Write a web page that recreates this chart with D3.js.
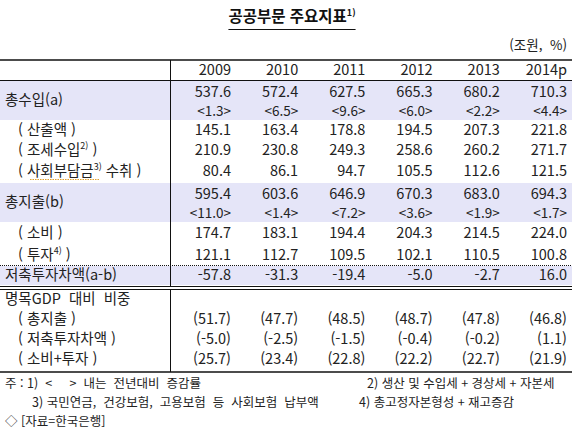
<!DOCTYPE html>
<html lang="ko">
<head>
<meta charset="UTF-8">
<title>공공부문 주요지표</title>
<style>
  body { margin: 0; background: #fff; }
  svg { display: block; font-family: "Noto Sans CJK KR", "Noto Sans", sans-serif; }
</style>
</head>
<body>
<svg id="tbl" width="572" height="438"></svg>
<script src="https://cdn.jsdelivr.net/npm/d3@7"></script>
<script>
// 연도 (열)
const years = ['2009', '2010', '2011', '2012', '2013', '2014p'];

// 조원
const totalRevenue = [537.6, 572.4, 627.5, 665.3, 680.2, 710.3];
const revenueGrowth = [1.3, 6.5, 9.6, 6.0, 2.2, 4.4];
const outputSales = [145.1, 163.4, 178.8, 194.5, 207.3, 221.8];
const taxRevenue = [210.9, 230.8, 249.3, 258.6, 260.2, 271.7];
const socialContrib = [80.4, 86.1, 94.7, 105.5, 112.6, 121.5];
const totalExpenditure = [595.4, 603.6, 646.9, 670.3, 683.0, 694.3];
const expenditureGrowth = [11.0, 1.4, 7.2, 3.6, 1.9, 1.7];
const consumption = [174.7, 183.1, 194.4, 204.3, 214.5, 224.0];
const investment = [121.1, 112.7, 109.5, 102.1, 110.5, 100.8];
const balance = [-57.8, -31.3, -19.4, -5.0, -2.7, 16.0];

// 명목GDP 대비 비중 (%)
const gdpExpenditure = [51.7, 47.7, 48.5, 48.7, 47.8, 46.8];
const gdpBalance = [-5.0, -2.5, -1.5, -0.4, -0.2, 1.1];
const gdpConsInv = [25.7, 23.4, 22.8, 22.2, 22.7, 21.9];

// 주석 [텍스트, 들여쓰기 여부]
const notesLeft = [['주 : 1)  <     >  내는  전년대비  증감률', 0], ['3) 국민연금,  건강보험,  고용보험  등  사회보험  납부액', 1]];
const notesRight = ['2) 생산 및 수입세 + 경상세 + 자본세', '4) 총고정자본형성 + 재고증감'];
const source = '◇ [자료=한국은행]';

const f1 = d3.formatLocale({ decimal: '.', thousands: ',', grouping: [3], currency: ['', ''], minus: '-' }).format('.1f');

// 표 행: label 조각 [텍스트, 위첨자 여부]
const rows = [
  { label: [['총수입(a)']], values: totalRevenue, growth: revenueGrowth, shade: true, h: 40 },
  { label: [['( 산출액 )']], indent: true, values: outputSales, h: 20 },
  { label: [['( 조세수입'], ['2)', 1], [' )']], indent: true, values: taxRevenue, h: 20 },
  { label: [['( 사회부담금'], ['3)', 1], [' 수취 )']], indent: true, values: socialContrib, h: 22, squiggle: true },
  { label: [['총지출(b)']], values: totalExpenditure, growth: expenditureGrowth, shade: true, h: 40 },
  { label: [['( 소비 )']], indent: true, values: consumption, h: 22 },
  { label: [['( 투자'], ['4)', 1], [' )']], indent: true, values: investment, h: 21, dotted: true },
  { label: [['저축투자차액(a-b)']], values: balance, shade: true, h: 20, double: true },
  { label: [['명목GDP  대비  비중']], values: null, h: 20, gap: 4 },
  { label: [['( 총지출 )']], indent: true, values: gdpExpenditure, paren: true, h: 20 },
  { label: [['( 저축투자차액 )']], indent: true, values: gdpBalance, paren: true, h: 20 },
  { label: [['( 소비+투자 )']], indent: true, values: gdpConsInv, paren: true, h: 20 }
];

const W = 572;
const svg = d3.select('#tbl');
const tableTop = 60, headH = 20, splitX = 170.5;
const numSize = 14.5, labelSize = 14.5;

const x = d3.scalePoint().domain(years).range([231, 567]);

// 제목
const title = svg.append('text')
  .attr('x', 292).attr('y', 22)
  .attr('text-anchor', 'middle')
  .attr('font-size', 15.5).attr('font-weight', 'bold').attr('fill', '#111');
title.append('tspan').text('공공부문 주요지표');
title.append('tspan').attr('font-size', 9).attr('dy', -6).text('1)');
const tb = title.node().getBBox();
svg.append('line')
  .attr('x1', tb.x).attr('x2', tb.x + tb.width)
  .attr('y1', 29.5).attr('y2', 29.5)
  .attr('stroke', '#111').attr('stroke-width', 1);

svg.append('text')
  .attr('x', 567).attr('y', 49.5)
  .attr('text-anchor', 'end').attr('font-size', 13.5).attr('fill', '#222')
  .style('white-space', 'pre')
  .text('(조원,  %)');

// 행 위치 계산
let cursor = tableTop + headH;
rows.forEach(r => {
  if (r.gap) cursor += r.gap;
  r.top = cursor;
  cursor += r.h;
});
const tableBottom = cursor + 3;

// 음영
svg.selectAll('rect.shade')
  .data(rows.filter(r => r.shade))
  .join('rect')
  .attr('class', 'shade')
  .attr('x', 0).attr('width', W)
  .attr('y', r => r.top + 1).attr('height', r => r.h - 1)
  .attr('fill', '#e5e5f8');

// 헤더
svg.selectAll('text.year')
  .data(years)
  .join('text')
  .attr('class', 'year')
  .attr('x', d => x(d)).attr('y', tableTop + headH / 2 + 5)
  .attr('text-anchor', 'end').attr('font-size', numSize).attr('fill', '#222')
  .text(d => d);

// 라벨
const labels = svg.selectAll('text.label')
  .data(rows)
  .join('text')
  .attr('class', 'label')
  .attr('x', r => r.indent ? 18 : 5)
  .attr('y', r => r.top + r.h / 2 + 5)
  .attr('font-size', labelSize).attr('fill', '#222')
  .style('white-space', 'pre');
labels.each(function (r) {
  const t = d3.select(this);
  r.label.forEach(([s, sup], i) => {
    const sp = t.append('tspan').text(s);
    if (sup) sp.attr('font-size', 9).attr('dy', -6);
    else if (i > 0 && r.label[i - 1][1]) sp.attr('dy', 6);
  });
});

// 맞춤법 밑줄 (사회부담금)
rows.filter(r => r.squiggle).forEach(r => {
  svg.append('line')
    .attr('x1', 30).attr('x2', 100)
    .attr('y1', r.top + r.h / 2 + 8.5).attr('y2', r.top + r.h / 2 + 8.5)
    .attr('stroke', '#e0a030').attr('stroke-width', 1.2)
    .attr('stroke-dasharray', '1.5,1');
});

// 값
rows.filter(r => r.values).forEach(r => {
  const main = r.growth ? r.top + 16.5 : r.top + r.h / 2 + 5;
  svg.selectAll(null)
    .data(r.values.map((v, i) => ({ v, year: years[i] })))
    .join('text')
    .attr('x', d => x(d.year)).attr('y', main)
    .attr('text-anchor', 'end').attr('font-size', numSize).attr('fill', '#222')
    .text(d => r.paren ? `(${f1(d.v)})` : f1(d.v));
  if (r.growth) {
    svg.selectAll(null)
      .data(r.growth.map((v, i) => ({ v, year: years[i] })))
      .join('text')
      .attr('x', d => x(d.year)).attr('y', r.top + 35.5)
      .attr('text-anchor', 'end').attr('font-size', 13.5).attr('fill', '#222')
      .text(d => `<${f1(d.v)}>`);
  }
});

// 선
svg.append('line')
  .attr('x1', 0).attr('x2', W).attr('y1', tableTop).attr('y2', tableTop)
  .attr('stroke', '#111').attr('stroke-width', 1.6);
svg.append('line')
  .attr('x1', 0).attr('x2', W).attr('y1', tableTop + headH + 0.5).attr('y2', tableTop + headH + 0.5)
  .attr('stroke', '#111').attr('stroke-width', 1);

rows.filter(r => r.dotted).forEach(r => {
  const y = r.top + r.h + 0.5;
  svg.append('line')
    .attr('x1', 0).attr('x2', W).attr('y1', y).attr('y2', y)
    .attr('stroke', '#111').attr('stroke-width', 1).attr('stroke-dasharray', '1,1');
});

let dblY = 0;
rows.filter(r => r.double).forEach(r => {
  dblY = r.top + r.h + 1;
  [dblY, dblY + 3].forEach(y => {
    svg.append('line')
      .attr('x1', 0).attr('x2', W).attr('y1', y + 0.5).attr('y2', y + 0.5)
      .attr('stroke', '#111').attr('stroke-width', 1);
  });
});

svg.append('line')
  .attr('x1', splitX).attr('x2', splitX).attr('y1', tableTop).attr('y2', dblY)
  .attr('stroke', '#111').attr('stroke-width', 1);
svg.append('line')
  .attr('x1', splitX).attr('x2', splitX).attr('y1', dblY + 4).attr('y2', tableBottom)
  .attr('stroke', '#111').attr('stroke-width', 1);

svg.append('line')
  .attr('x1', 0).attr('x2', W).attr('y1', tableBottom).attr('y2', tableBottom)
  .attr('stroke', '#111').attr('stroke-width', 1.5);

// 주석
notesLeft.forEach(([s, indent], i) => {
  const y = tableBottom + 15.5 + i * 19;
  svg.append('text')
    .attr('x', indent ? 32 : 5).attr('y', y)
    .attr('font-size', 12.5).attr('fill', '#222')
    .style('white-space', 'pre')
    .text(s);
  svg.append('text')
    .attr('x', i === 0 ? 367 : 359).attr('y', y)
    .attr('font-size', 12.5).attr('fill', '#222')
    .style('white-space', 'pre')
    .text(notesRight[i]);
});

svg.append('text')
  .attr('x', 5).attr('y', tableBottom + 53.5)
  .attr('font-size', 12.5).attr('fill', '#222')
  .text(source);
</script>
</body>
</html>
